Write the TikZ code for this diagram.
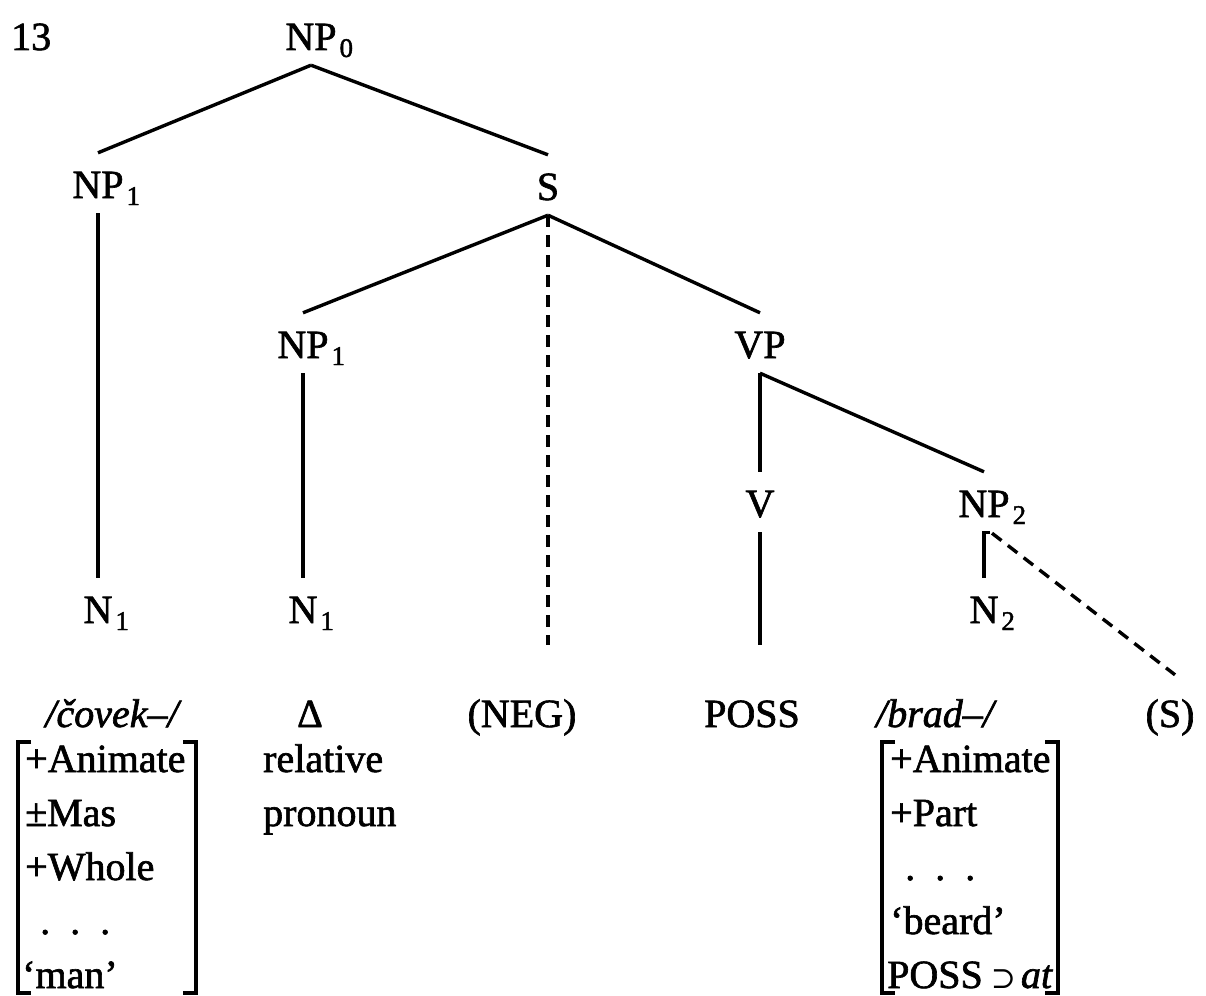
\documentclass[tikz,border=0pt]{standalone}
\usepackage{fontspec}
\setmainfont{Liberation Serif}[FakeBold=1.6]
\newfontfamily\relfont{DejaVu Serif}
\usetikzlibrary{calc}
% subscript that takes no width, so a node centres on its main letters
\newcommand\lsub[1]{\rlap{\kern3pt\raisebox{-7pt}{\fontsize{27}{27}\selectfont #1}}}
\begin{document}
\begin{tikzpicture}[x=1pt,y=-1pt,
  every node/.style={inner sep=0pt,font=\fontsize{40}{46}\selectfont},
  cat/.style={anchor=base,text height=45pt,text depth=15pt},
  word/.style={anchor=base,text height=25pt,text depth=0pt},
  feat/.style={anchor=base west},
  branch/.style={line width=3.4pt},
  optional/.style={line width=3.4pt,dash pattern=on 12pt off 8pt},
  brack/.style={line width=3.2pt}]
\useasboundingbox (0,0) rectangle (1206,995);

% example number
\node[feat] (num) at (11,50) {13};

% tree categories
\node[cat] (np0) at (311,50) {NP\lsub{0}};
\node[cat] (np1a) at (98,198) {NP\lsub{1}};
\node[cat] (s) at (548,200) {S};
\node[cat] (np1b) at (303,358) {NP\lsub{1}};
\node[cat] (vp) at (760,358) {VP};
\node[cat] (v) at (760,517) {V};
\node[cat] (np2) at (984,517) {NP\lsub{2}};
\node[cat] (n1a) at (98,623) {N\lsub{1}};
\node[cat] (n1b) at (303,623) {N\lsub{1}};
\node[cat] (n2) at (984,623) {N\lsub{2}};

% terminal row
\node[word] (covek) at (112,727) {\itshape /čovek–/};
\node[word] (delta) at (310,727) {Δ};
\node[word] (neg) at (522,727) {(NEG)};
\node[word] (poss) at (752,727) {POSS};
\node[word] (brad) at (935,727) {\itshape /brad–/};
\node[word] (sopt) at (1170,727) {(S)};

% branches
\draw[branch] (np0.south) -- (np1a.north);
\draw[branch] (np0.south) -- (s.north);
\draw[branch] (s.south) -- (np1b.north);
\draw[branch] (s.south) -- (vp.north);
\draw[optional] (s.south) -- ($(s.south |- neg.north)+(0,-57)$);
\draw[branch] (np1a.south) -- (n1a.north);
\draw[branch] (np1b.south) -- (n1b.north);
\draw[branch] (vp.south) -- (v.north);
\draw[branch] (vp.south) -- (np2.north);
\draw[branch] (v.south) -- ($(v.south |- poss.north)+(0,-57)$);
\draw[branch] ($(np2.south)+(6,0)$) -- (np2.south) -- (n2.north);
\draw[optional] ($(np2.south)+(8,1)$) -- ($(sopt.north)+(5,-27)$);

% feature matrix of the first noun
\node[feat] (fa1) at (25,772) {+Animate};
\node[feat] (fa2) at (25,826) {±Mas};
\node[feat] (fa3) at (25,880) {+Whole};
\node[feat] (fa4) at (40,934) {.\ \ .\ \ .};
\node[feat] (fa5) at (22,988) {‘man’};
\draw[brack] (31,742) -- (18,742) -- (18,993) -- (31,993);
\draw[brack] (183,742) -- (196,742) -- (196,993) -- (183,993);

% gloss under the delta
\node[feat] (rel1) at (263,772) {relative};
\node[feat] (rel2) at (263,826) {pronoun};

% feature matrix of the second noun
\node[feat] (fb1) at (890,772) {+Animate};
\node[feat] (fb2) at (890,826) {+Part};
\node[feat] (fb3) at (905,880) {.\ \ .\ \ .};
\node[feat] (fb4) at (890,934) {‘beard’};
\node[feat] (fb5) at (887,988) {POSS\hspace{8pt}{\relfont\fontsize{30}{36}\selectfont ⊃}\hspace{5pt}\textit{at}};
\draw[brack] (895,742) -- (882,742) -- (882,993) -- (895,993);
\draw[brack] (1045,742) -- (1058,742) -- (1058,993) -- (1045,993);
\end{tikzpicture}
\end{document}
